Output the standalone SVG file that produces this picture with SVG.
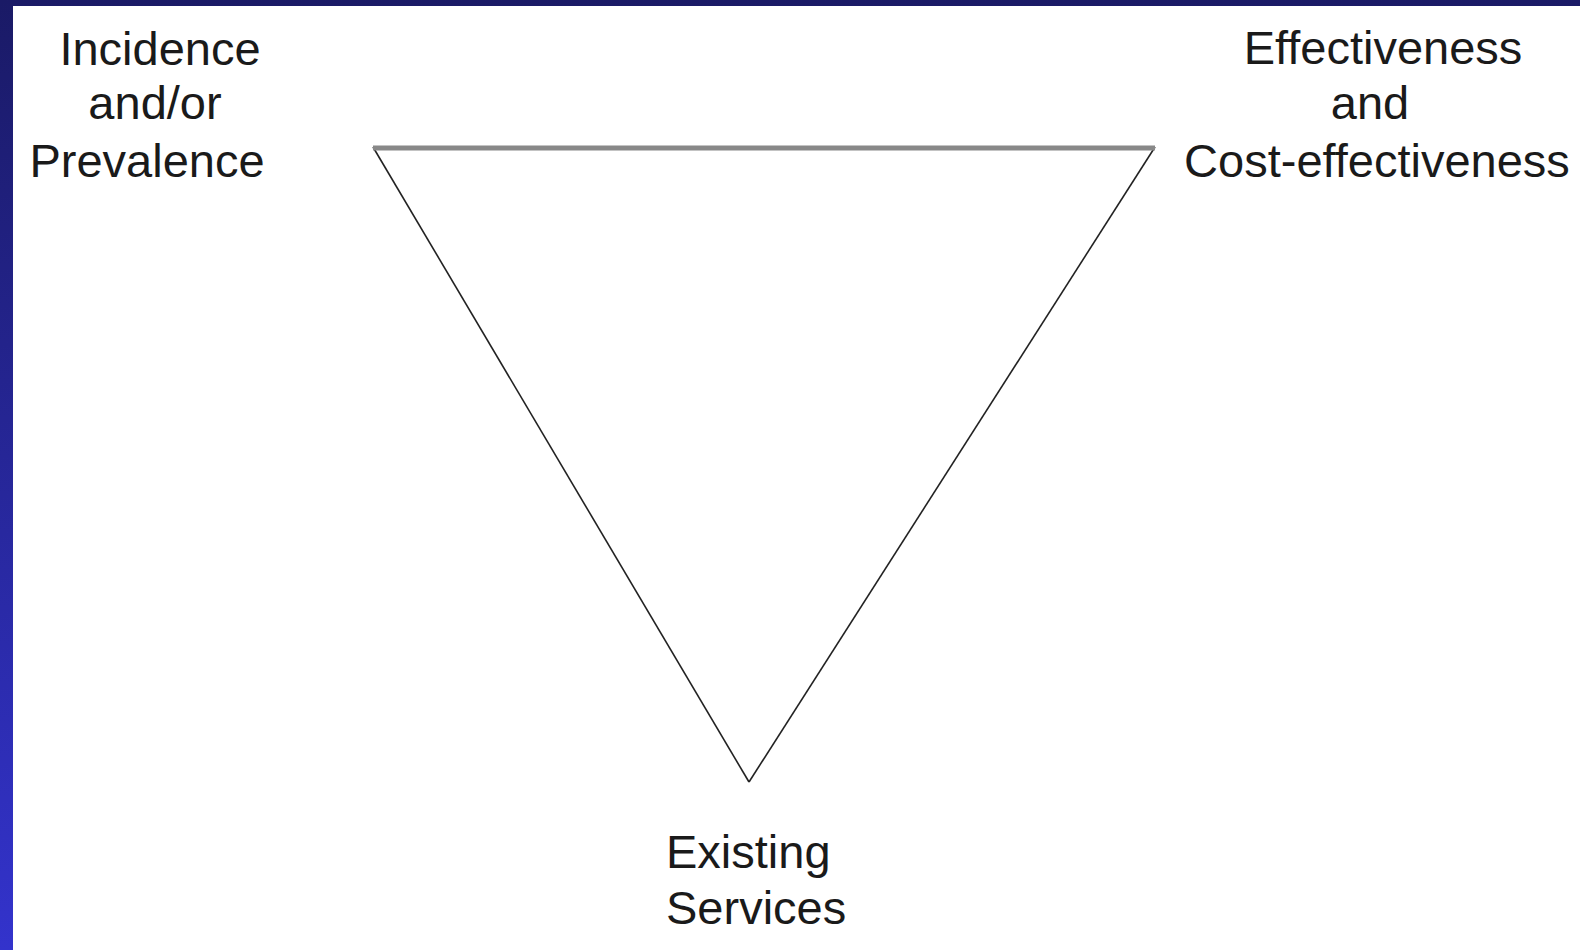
<svg xmlns="http://www.w3.org/2000/svg" width="1580" height="950" viewBox="0 0 1580 950">
<defs>
<linearGradient id="bg" x1="0" y1="0" x2="0" y2="1">
<stop offset="0" stop-color="#1a1a66"/>
<stop offset="1" stop-color="#3333cc"/>
</linearGradient>
<style>
.lbl{font-family:"Liberation Sans",Arial,sans-serif;font-size:47px;fill:#1a1a1a}
.c{text-anchor:middle}
.side{stroke:#222;stroke-width:1.6;fill:none}
.top{stroke:#888;stroke-width:5;fill:none}
</style>
</defs>
<rect x="0" y="0" width="1580" height="950" fill="url(#bg)"/>
<rect x="13" y="6" width="1567" height="944" fill="#ffffff"/>
<g id="connectors">
<line class="side" x1="373" y1="147" x2="749" y2="782"/>
<line class="side" x1="1155" y1="147" x2="749" y2="782"/>
<line class="top" x1="373" y1="148" x2="1155" y2="148"/>
</g>
<g id="incidence">
<text class="lbl c" x="160" y="65">Incidence</text>
<text class="lbl c" x="155" y="119">and/or</text>
<text class="lbl c" x="147" y="177">Prevalence</text>
</g>
<g id="effectiveness">
<text class="lbl c" x="1383" y="64">Effectiveness</text>
<text class="lbl c" x="1370" y="119">and</text>
<text class="lbl c" x="1377" y="177">Cost-effectiveness</text>
</g>
<g id="existing">
<text class="lbl" x="666" y="868">Existing</text>
<text class="lbl" x="666" y="924">Services</text>
</g>
</svg>
